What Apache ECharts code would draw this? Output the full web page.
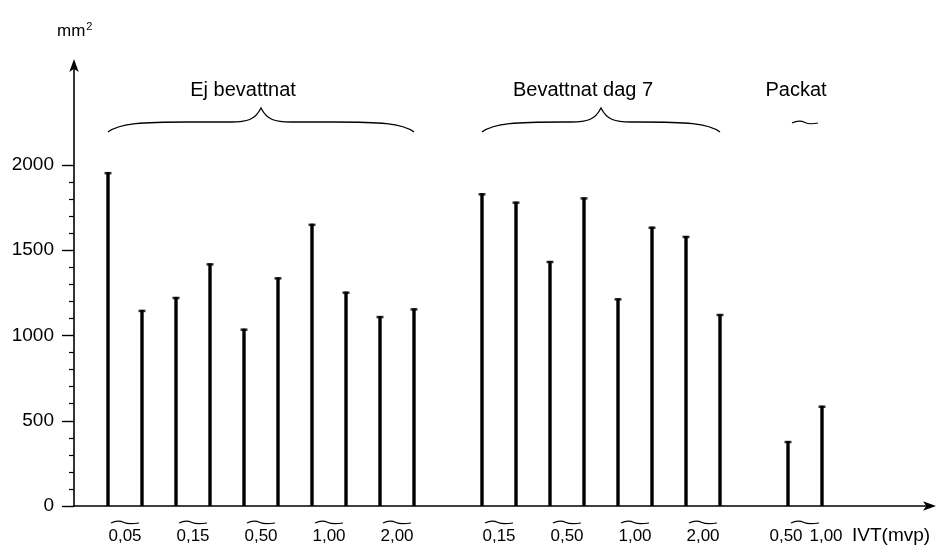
<!DOCTYPE html>
<html>
<head>
<meta charset="utf-8">
<script src="https://cdn.jsdelivr.net/npm/echarts@6/dist/echarts.min.js"></script>
<style>
html,body{margin:0;padding:0;background:#fff;}
#chart{width:952px;height:557px;}
</style>
</head>
<body>
<div id="chart"></div>
<script>
// ---- data ----
const barPositions = [0,1,2,3,4,5,6,7,8,9, 11,12,13,14,15,16,17,18, 20,21];
const barValues    = [1958,1150,1226,1423,1040,1341,1655,1257,1114,1159,
                      1834,1785,1437,1810,1218,1638,1584,1126,
                      381,588];
const doseLabelPositions = [0.5,2.5,4.5,6.5,8.5, 11.5,13.5,15.5,17.5, 20,21];
const doseLabels = ['0,05','0,15','0,50','1,00','2,00','0,15','0,50','1,00','2,00','0,50','1,00'];
const tildePositions = [0.5,2.5,4.5,6.5,8.5, 11.5,13.5,15.5,17.5, 20.5];
const groupNames = ['Ej bevattnat','Bevattnat dag 7','Packat'];
const groupStart = [0, 11, 20];
const groupEnd   = [9, 18, 21];
const yTicks = [0,500,1000,1500,2000];
const yUnit = 'mm';
const xTitle = 'IVT(mvp)';

const tickFont = '"Liberation Sans Narrow","Liberation Sans",sans-serif';
const textFont = '"Liberation Sans",sans-serif';

const chart = echarts.init(document.getElementById('chart'), null, {renderer:'canvas'});

const xMin = -1, xMax = -1 + 856/34;

const option = {
  backgroundColor:'#fff',
  animation:false,
  grid:[
    {left:74, right:22, top:65, bottom:51},
    {left:74, right:22, top:165, bottom:51}
  ],
  xAxis:[
    {gridIndex:0, type:'value', min:xMin, max:xMax,
     axisLine:{show:true, onZero:false, lineStyle:{color:'#000', width:1.6}, symbol:['none','arrow'], symbolSize:[7,13], symbolOffset:[0,6]},
     axisTick:{show:false}, splitLine:{show:false}, axisLabel:{show:false}
    },
    {gridIndex:1, type:'value', min:xMin, max:xMax, show:false}
  ],
  yAxis:[
    {gridIndex:0, type:'value', min:0, max:2586,
     axisLine:{show:true, onZero:false, lineStyle:{color:'#000', width:1.6}, symbol:['none','arrow'], symbolSize:[7,13], symbolOffset:[0,6]},
     axisTick:{show:false}, axisLabel:{show:false}, splitLine:{show:false}},
    {gridIndex:1, type:'value', min:0, max:2000, interval:500,
     axisLine:{show:false, onZero:false},
     axisTick:{show:true, length:12, lineStyle:{color:'#000', width:1.4}, customValues:yTicks},
     minorTick:{show:true, splitNumber:5, length:5, lineStyle:{color:'#000', width:1.2}},
     axisLabel:{show:true, margin:20, color:'#000', fontSize:19, fontFamily:tickFont, customValues:yTicks,
       formatter:function(v){ return String(v); }},
     splitLine:{show:false}}
  ],
  graphic:[
    {type:'text', left:57, top:21, style:{
      text:'{a|' + yUnit + '}{s|2}',
      rich:{a:{fontSize:17, fontFamily:textFont, fill:'#000', verticalAlign:'bottom'},
            s:{fontSize:11, fontFamily:textFont, fill:'#000', verticalAlign:'top', padding:[0,0,8,1]}}
    }},
    {type:'text', left:852, top:526, style:{text:xTitle, fontSize:19, fontFamily:textFont, fill:'#000'}}
  ],
  series:[
    {type:'bar', xAxisIndex:1, yAxisIndex:1, barWidth:3.4,
     itemStyle:{color:'#000'},
     data: barPositions.map((p,i)=>[p, barValues[i]])},
    {type:'scatter', xAxisIndex:1, yAxisIndex:1, symbol:'rect', symbolSize:[7,2.5], symbolOffset:[0,1],
     itemStyle:{color:'#000'}, silent:true,
     data: barPositions.map((p,i)=>[p, barValues[i]])},
    // dose labels under the axis
    {type:'custom', xAxisIndex:1, yAxisIndex:1, clip:false, silent:true,
     data: doseLabelPositions.map((p,i)=>[p, 0, i]),
     renderItem:function(params, api){
       const idx = api.value(2);
       const c = api.coord([api.value(0), 0]);
       // nudge labels apart when neighbours are close
       let dx = 0;
       const prev = idx > 0 ? doseLabelPositions[idx-1] : null;
       const next = idx < doseLabelPositions.length-1 ? doseLabelPositions[idx+1] : null;
       if (next !== null && next - doseLabelPositions[idx] < 1.5) dx -= 2;
       if (prev !== null && doseLabelPositions[idx] - prev < 1.5) dx += 4;
       return {type:'text', style:{text:doseLabels[idx], x:c[0]+dx, y:c[1]+30, align:'center', verticalAlign:'middle',
         fontSize:17, fontFamily:tickFont, fill:'#000'}};
     }},
    // small swung-dash marks under the dose pairs
    {type:'custom', xAxisIndex:1, yAxisIndex:1, clip:false, silent:true,
     data: tildePositions.map(p=>[p, 0]),
     renderItem:function(params, api){
       const c = api.coord([api.value(0), 0]);
       const x = c[0], y = c[1] + 16;
       return {type:'path', shape:{pathData:
         'M'+(x-14)+' '+(y+1)+' C'+(x-9)+' '+(y-1.5)+' '+(x-5)+' '+(y-1.5)+' '+(x-1)+' '+(y+0.5)+
         ' C'+(x+3)+' '+(y+2.5)+' '+(x+7)+' '+(y+2)+' '+(x+14)+' '+(y+1)},
         style:{fill:null, stroke:'#000', lineWidth:1.2}};
     }},
    // group braces and names
    {type:'custom', xAxisIndex:1, yAxisIndex:1, clip:false, silent:true,
     data: groupNames.map((n,i)=>[groupStart[i], groupEnd[i], i]),
     renderItem:function(params, api){
       const i = api.value(2);
       const a = api.coord([api.value(0), 0]);
       const b = api.coord([api.value(1), 0]);
       const top = params.coordSys.y; // grid top (value 2000)
       const x0 = a[0], x1 = b[0], xm = (x0+x1)/2;
       const children = [];
       if (x1 - x0 > 100) {
         const yE = top - 33, yF = top - 43, yP = top - 57;
         const d = 'M'+x0+' '+yE+
           ' C'+(x0+12)+' '+(yF+1)+' '+(x0+35)+' '+yF+' '+(x0+80)+' '+yF+
           ' L'+(xm-30)+' '+yF+
           ' C'+(xm-14)+' '+yF+' '+(xm-6)+' '+(yF-2)+' '+xm+' '+yP+
           ' C'+(xm+6)+' '+(yF-2)+' '+(xm+14)+' '+yF+' '+(xm+30)+' '+yF+
           ' L'+(x1-80)+' '+yF+
           ' C'+(x1-35)+' '+yF+' '+(x1-12)+' '+(yF+1)+' '+x1+' '+yE;
         children.push({type:'path', shape:{pathData:d}, style:{fill:null, stroke:'#000', lineWidth:1.3}});
         children.push({type:'text', style:{text:groupNames[i], x:xm-18, y:top-75, align:'center', verticalAlign:'middle',
           fontSize:20, fontFamily:textFont, fill:'#000'}});
       } else {
         const y = top - 43;
         children.push({type:'path', shape:{pathData:
           'M'+(xm-13)+' '+(y+1)+' C'+(xm-8)+' '+(y-1.5)+' '+(xm-4)+' '+(y-1.5)+' '+xm+' '+(y+0.5)+
           ' C'+(xm+4)+' '+(y+2.5)+' '+(xm+8)+' '+(y+2)+' '+(xm+13)+' '+(y+1)},
           style:{fill:null, stroke:'#000', lineWidth:1.2}});
         children.push({type:'text', style:{text:groupNames[i], x:xm-9, y:top-75, align:'center', verticalAlign:'middle',
           fontSize:20, fontFamily:textFont, fill:'#000'}});
       }
       return {type:'group', children:children};
     }}
  ]
};
chart.setOption(option);
</script>
</body>
</html>
